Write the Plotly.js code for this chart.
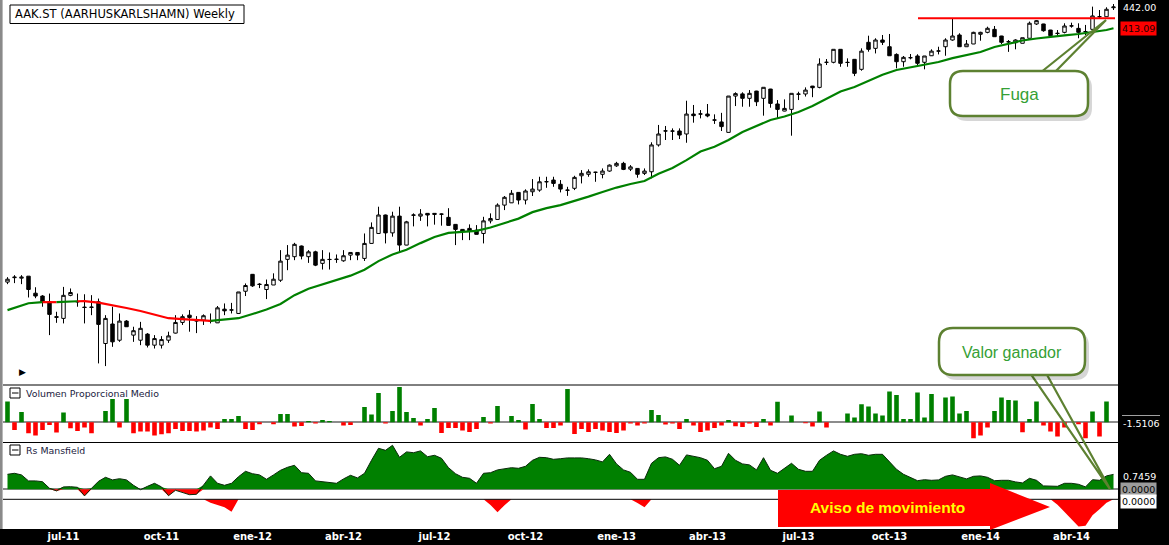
<!DOCTYPE html>
<html><head><meta charset="utf-8">
<script src="https://cdn.plot.ly/plotly-3.0.1.min.js"></script>
<style>html,body{margin:0;padding:0;background:#fff;overflow:hidden}#chart{width:1169px;height:545px}</style>
</head><body><div id="chart"></div>
<script>
// ---------- DATA (weekly candles, first one dated Friday 2011-05-06) ----------
const firstWeek = [2011, 4, 6];
const openP = [184.5,187.1,186.8,188.0,178.1,176.5,173.3,165.3,164.4,176.9,
173.5,170.4,170.2,173.3,151.8,161.5,153.4,163.0,155.9,153.4,
156.4,151.0,151.0,153.4,156.9,162.3,166.1,163.2,163.5,163.1,
162.1,169.3,168.8,167.0,179.2,189.1,183.3,180.2,182.8,185.6,
198.3,200.0,206.9,200.0,203.1,195.8,198.3,198.2,197.4,201.0,
202.7,198.9,208.6,215.3,228.3,215.7,227.5,207.5,228.1,227.5,
229.5,229.5,229.0,226.6,221.6,218.1,218.8,217.6,215.3,224.1,
225.1,235.6,237.3,245.3,239.4,245.8,247.1,253.7,255.1,251.7,
247.1,248.5,258.6,259.8,261.4,259.8,262.5,266.9,269.0,264.1,
264.7,260.6,261.9,285.2,298.1,298.1,298.1,295.3,314.6,314.6,
314.6,308.8,306.8,296.8,333.1,335.4,330.7,338.4,330.7,340.6,
324.8,317.6,319.3,335.0,335.3,343.8,342.4,370.7,370.8,386.4,
370.8,374.3,362.6,395.1,387.6,398.0,389.6,380.2,371.5,376.2,
378.3,370.8,378.6,384.2,389.6,398.0,404.4,389.6,393.0,405.3,
407.8,411.7,403.1,395.9,394.6,393.9,400.2,418.8,418.8,410.8,
406.6,407.8,416.1,413.0,408.6,411.7,428.6,428.6,441.0];
const highP = [187.4,188.6,188.6,188.0,181.5,177.0,177.9,167.9,181.7,180.8,
177.9,177.5,177.0,175.1,166.1,170.6,167.0,163.5,160.1,162.6,
156.9,155.9,155.4,157.6,166.1,166.5,168.8,165.6,166.5,167.0,
171.0,172.4,172.7,178.8,183.7,189.3,183.9,186.0,189.7,204.2,
207.5,209.0,207.2,204.2,203.8,204.2,202.7,201.4,204.2,202.7,
202.7,215.3,223.0,234.4,228.6,230.7,234.4,224.1,229.5,232.6,
229.7,229.7,229.4,233.3,221.8,218.3,221.6,221.1,227.0,229.5,
236.9,242.5,247.1,245.5,247.7,255.9,257.8,257.8,257.8,255.1,
249.7,258.6,263.3,263.9,261.9,264.7,268.1,270.3,270.3,267.5,
264.9,264.7,287.6,303.9,302.9,300.6,300.6,328.2,323.8,318.6,
324.8,314.3,315.8,333.1,337.1,337.1,339.5,338.7,342.5,340.8,
328.9,329.6,336.0,337.7,342.4,344.0,375.5,374.7,386.4,386.6,
375.5,374.5,387.6,403.5,400.2,404.4,405.7,381.5,378.3,380.7,
380.4,378.3,386.4,389.6,400.2,426.4,406.6,398.0,408.6,408.6,
415.2,416.1,403.3,398.0,398.9,400.9,422.0,424.1,419.0,411.0,
410.8,419.7,420.5,419.7,417.5,442.5,437.8,441.6,446.2];
const lowP = [183.3,183.9,183.3,175.7,175.3,170.6,155.9,162.1,161.8,176.4,
170.6,161.8,166.1,142.5,141.3,150.2,152.6,160.0,152.6,151.0,
149.9,149.4,149.4,152.1,156.7,161.0,157.6,156.9,161.0,161.8,
162.0,166.1,167.0,166.9,176.5,181.7,181.0,174.8,182.8,184.6,
191.6,197.8,198.3,196.1,194.1,192.0,192.0,196.1,196.8,197.8,
197.8,197.3,208.5,215.2,208.6,213.1,203.1,207.4,220.2,224.1,
220.2,221.4,220.7,220.8,207.5,210.8,210.8,214.6,208.6,222.3,
225.0,231.9,237.2,236.1,236.1,242.5,245.8,248.9,249.7,245.3,
242.6,247.1,252.4,257.8,253.7,256.5,261.9,266.0,263.3,262.5,
257.0,259.2,256.5,283.7,289.7,289.7,290.6,287.2,306.1,310.3,
311.4,304.9,298.1,296.7,322.7,322.0,322.0,322.7,313.0,321.0,
310.3,317.4,293.7,328.9,332.6,331.9,341.4,367.6,369.6,365.6,
365.6,354.9,361.0,383.5,381.4,391.7,378.5,363.8,365.6,374.3,
366.7,362.6,378.3,380.2,378.6,397.1,389.5,389.5,392.9,397.1,
406.6,402.1,393.0,383.3,386.4,393.8,400.1,417.5,408.6,401.4,
402.2,406.5,413.9,400.2,404.4,411.6,425.5,428.5,437.8];
const closeP = [186.2,187.4,187.4,180.2,176.5,173.3,166.5,165.0,176.9,178.5,
173.3,170.2,170.4,161.3,164.4,152.6,163.0,160.1,158.1,159.3,
151.0,154.2,153.7,155.5,162.3,165.3,164.9,163.1,165.8,163.0,
170.0,168.4,168.9,178.8,182.5,182.3,183.1,183.1,186.2,197.2,
201.0,208.0,200.4,203.1,194.7,198.3,198.2,198.4,200.6,202.7,
201.0,208.6,219.5,228.3,215.7,227.5,207.5,223.4,228.3,229.0,
228.3,228.8,228.9,220.9,218.1,216.9,217.1,214.7,224.1,225.8,
235.6,241.5,244.6,239.4,246.4,247.9,253.7,253.8,252.4,247.9,
247.0,257.3,260.6,261.9,261.5,262.5,267.5,269.0,263.9,266.0,
259.8,262.5,285.2,295.3,298.2,298.0,294.3,314.6,313.0,314.7,
312.7,308.6,302.3,333.1,335.7,330.7,336.0,327.1,342.5,325.4,
319.3,320.3,336.0,335.2,339.5,342.0,368.8,370.8,386.4,369.6,
370.6,358.0,384.2,386.4,398.0,395.1,378.6,371.5,376.7,376.3,
369.6,378.3,384.2,384.4,398.0,403.1,389.6,393.0,407.8,407.8,
413.1,402.2,395.1,395.7,398.0,400.9,419.8,423.2,409.9,403.5,
406.4,416.1,416.3,407.8,408.8,429.6,428.7,438.8,442.0];

// moving average (sampled at candle index), red where falling
const maWeek = [0,3,5,7,9,10,11,13,15,17,19,21,23,25,27,29,31,33,35,37,39,41,43,45,47,49,51,53,55,57,59,61,63,65,67,69,71,73,75,77,79,81,83,85,87,89,91,93,95,97,99,101,103,105,107,109,111,113,115,117,119,121,123,125,127,129,131,133,135,137,139,141,143,145,147,149,151,153,155,157,158];
const maVal = [168.8,172.5,173.1,173.1,173.4,173.6,173.7,172.8,171.5,169.9,168.3,166.4,164.5,164.0,163.5,163.1,163.8,164.5,166.7,169.1,172.1,177.0,180.6,183.0,185.6,188.3,191.9,197.2,201.4,204.5,208.8,212.9,215.7,216.5,217.1,219.4,222.8,225.7,230.4,233.3,235.6,238.6,242.0,245.6,249.1,251.9,254.3,260.2,265.0,271.8,279.3,283.5,289.7,297.1,302.9,308.7,312.2,316.6,322.7,330.5,337.9,342.8,349.4,356.5,361.8,364.6,368.2,371.1,375.8,379.4,383.1,389.3,393.0,397.4,399.9,402.2,404.0,405.7,407.8,410.8,413.09];
const maRedSegments = [[5,7],[10,29]];

const volumen = [2.07,-0.77,1.03,-1.1,-1.33,-0.77,-0.27,-1.03,0.97,-0.6,
-0.87,-0.53,-1.1,0,1.13,2.33,-0.53,2.33,-1.1,-0.93,
-0.93,-1.33,-1.2,-1.1,-0.67,-0.87,-0.87,-0.93,-0.83,-0.53,
-0.67,0.33,0.33,0.63,-0.67,-0.77,-0.2,0,-0.2,0.83,
0.83,-0.43,-0.37,0.13,-0.13,0.23,0.13,0,-0.33,-0.27,
0,1.53,0.77,2.93,-0.13,1.13,3.53,1.03,0.43,-0.33,
0.33,1.43,-1.07,-0.57,-0.57,-0.83,-0.97,-0.67,0.53,-0.13,
1.63,0,0.63,0.23,-0.73,1.83,0.33,-0.57,-0.57,-0.33,
3.33,-1.17,-0.67,-0.97,-0.67,-0.83,-0.97,-1.07,-0.83,-0.13,
-0.33,-0.13,1.23,0.73,-0.23,-0.13,-0.67,0.33,-0.33,-0.97,
-0.83,-0.57,-0.33,0.23,-0.4,-0.47,-0.13,-0.47,0.33,-0.33,
2.05,0,0.67,0,-0.1,-0.43,1.07,-0.53,0,0,
0.87,0.47,1.8,1.57,0.87,0.67,3.07,2.73,0.33,0.33,
2.97,0.47,2.83,0,2.47,2.57,0.87,1.13,-1.6,-1.33,
-0.53,1.13,2.47,2.23,2.17,-1.0,0.33,2.07,-0.33,-0.93,
-1.43,-0.53,0,-0.2,-1.6,1.07,-1.43,2.07,0];

const rsMansfield = [0.75,0.8,0.72,0.42,0.42,0.38,0.05,-0.08,0.12,0.13,
0.1,-0.33,0.05,0.4,0.6,0.47,0.53,0.47,0.2,-0.02,
0.15,0.3,0.12,-0.32,-0.05,-0.15,-0.27,-0.25,0.2,0.67,
0.3,0.2,0.3,0.63,0.9,0.78,0.72,0.5,0.72,0.95,
1.1,1.2,0.83,0.8,0.42,0.37,0.35,0.3,0.52,0.7,
0.57,0.8,1.45,2.05,1.95,2.2,1.6,1.87,1.83,1.92,
1.63,1.7,1.55,1.08,0.78,0.6,0.55,0.3,0.8,0.83,
0.97,1.03,1.08,1.05,1.15,1.45,1.6,1.58,1.5,1.53,
1.57,1.57,1.57,1.53,1.47,1.37,1.75,1.27,0.97,0.85,
0.5,0.5,1.3,1.58,1.62,1.5,1.2,1.72,1.65,1.58,
1.45,1.03,1.15,1.8,1.45,1.27,1.22,0.97,1.58,0.95,
0.8,1.05,1.3,1.0,0.9,0.9,1.45,1.7,1.92,1.75,
1.65,1.75,1.78,1.7,1.75,1.75,1.4,1.0,0.75,0.57,
0.43,0.48,0.45,0.47,0.65,0.72,0.62,0.52,0.65,0.67,
0.6,0.43,0.45,0.45,0.37,0.32,0.55,0.45,0.17,0.15,
0.15,0.3,0.3,0.25,0.12,0.48,0.45,0.67,0.7459];

const avisoNeg = [0,0,0,0,0,0,0,0,0,0, 0,0,0,0,0,0,0,0,0,0,
0,0,0,0,0,0,0,0,0,-0.17, -0.3,-0.4,-0.63,0,0,0,0,0,0,0,
0,0,0,0,0,0,0,0,0,0, 0,0,0,0,0,0,0,0,0,0,
0,0,0,0,0,0,0,0,0,-0.29, -0.65,-0.3,0,0,0,0,0,0,0,0,
0,0,0,0,0,0,0,0,0,0, -0.19,-0.4,0,0,0,0,0,0,0,0,
0,0,0,0,0,0,0,0,0,0, 0,0,0,0,0,0,0,0,0,0,
0,0,0,0,0,0,0,0,0,0, 0,0,0,0,0,0,0,0,0,0,
0,0,0,0,0,0,0,0,0,0,
-0.27,-0.65,-1.03,-1.38,-1.33,-0.8,-0.5,-0.17,0];

const tickDates = ['2011-07-01','2011-10-07','2012-01-06','2012-04-06','2012-07-06','2012-10-05','2013-01-04','2013-04-05','2013-07-05','2013-10-04','2014-01-03','2014-04-04'];
const tickLabels = ['jul-11','oct-11','ene-12','abr-12','jul-12','oct-12','ene-13','abr-13','jul-13','oct-13','ene-14','abr-14'];
const resistLevel = 426.4;
const resistSpan = ['2013-11-01 12:00','2014-05-17 12:00'];
const volumenLabel = -1.5106;

// ---------- BUILD ----------
const W = 1169, H = 545;
const X = px => px / W, Y = py => 1 - py / H;
const DAY = 86400000;
const t0 = Date.UTC(firstWeek[0], firstWeek[1], firstWeek[2]);
const dates = closeP.map((_, i) => new Date(t0 + i * 7 * DAY).toISOString().slice(0, 10));

const traces = [];
let cuts = [0];
maRedSegments.forEach(s => { cuts.push(s[0]); cuts.push(s[1]); });
cuts.push(closeP.length - 1);
for (let k = 0; k < cuts.length - 1; k++) {
  const a = cuts[k], b = cuts[k + 1];
  const red = maRedSegments.some(s => s[0] === a && s[1] === b);
  const xs = [], ys = [];
  maWeek.forEach((w, j) => { if (w >= a && w <= b) { xs.push(dates[w]); ys.push(maVal[j]); } });
  traces.push({type: 'scatter', mode: 'lines', x: xs, y: ys, xaxis: 'x', yaxis: 'y',
    line: {color: red ? '#ff0000' : '#008000', width: 2.2}, hoverinfo: 'skip'});
}
traces.push({type: 'scatter', mode: 'lines', x: resistSpan, y: [resistLevel, resistLevel], xaxis: 'x', yaxis: 'y',
  line: {color: '#ff0000', width: 2}, hoverinfo: 'skip'});
traces.push({type: 'candlestick', x: dates, open: openP, high: highP, low: lowP, close: closeP,
  xaxis: 'x', yaxis: 'y', whiskerwidth: 0,
  increasing: {line: {color: '#000', width: 1}, fillcolor: '#ffffff'},
  decreasing: {line: {color: '#000', width: 1}, fillcolor: '#000000'}, hoverinfo: 'skip'});
traces.push({type: 'bar', x: dates, y: volumen, xaxis: 'x', yaxis: 'y2', width: 4.6 * DAY,
  marker: {color: volumen.map(v => v >= 0 ? '#008000' : '#ff0000'), line: {width: 0}}, hoverinfo: 'skip'});
traces.push({type: 'scatter', mode: 'lines', x: dates, y: rsMansfield.map(v => Math.max(v, 0)), xaxis: 'x', yaxis: 'y3',
  fill: 'tozeroy', fillcolor: '#008000', line: {width: 0, color: '#008000'}, hoverinfo: 'skip'});
traces.push({type: 'scatter', mode: 'lines', x: dates, y: rsMansfield.map(v => Math.min(v, 0)), xaxis: 'x', yaxis: 'y3',
  fill: 'tozeroy', fillcolor: '#ff0000', line: {width: 0, color: '#ff0000'}, hoverinfo: 'skip'});
traces.push({type: 'scatter', mode: 'lines', x: dates, y: rsMansfield, xaxis: 'x', yaxis: 'y3',
  line: {width: 1, color: '#0a2a0a'}, hoverinfo: 'skip'});
traces.push({type: 'scatter', mode: 'lines', x: dates, y: avisoNeg, xaxis: 'x', yaxis: 'y4',
  fill: 'tozeroy', fillcolor: '#ff0000', line: {width: 0, color: '#ff0000'}, hoverinfo: 'skip'});

// ---------- SHAPES ----------
const P = (x, y) => X(x).toFixed(5) + ',' + Y(y).toFixed(5);
const rect = (x0, y0, x1, y1, fill, lc, lw, layer) => ({type: 'rect', xref: 'paper', yref: 'paper',
  x0: X(x0), x1: X(x1), y0: Y(y1), y1: Y(y0), fillcolor: fill, line: {color: lc || fill, width: lw || 0}, layer: layer || 'above'});
const hline = (x0, x1, y, color, w) => ({type: 'line', xref: 'paper', yref: 'paper', x0: X(x0), x1: X(x1), y0: Y(y), y1: Y(y), line: {color: color, width: w}});
const rr = (x0, y0, x1, y1, r) => `M${P(x0 + r, y0)} L${P(x1 - r, y0)} Q${P(x1, y0)} ${P(x1, y0 + r)} L${P(x1, y1 - r)} Q${P(x1, y1)} ${P(x1 - r, y1)} L${P(x0 + r, y1)} Q${P(x0, y1)} ${P(x0, y1 - r)} L${P(x0, y0 + r)} Q${P(x0, y0)} ${P(x0 + r, y0)} Z`;
const pathS = (d, fill, lc, lw) => ({type: 'path', xref: 'paper', yref: 'paper', path: d, fillcolor: fill, line: {color: lc || 'rgba(0,0,0,0)', width: lw || 0}});
const GREEN_B = '#5d8131';

const shapes = [
  rect(0, 529, 1169, 545, '#000000', null, 0, 'below'),
  rect(1118, 0, 1169, 545, '#000000', null, 0, 'below'),
  rect(0, 0, 2.6, 529, '#8a8a8a', null, 0, 'below'),
  hline(3, 1118, 385, '#000', 1),
  hline(3, 1118, 442.5, '#000', 1),
  hline(3, 1118, 499.3, '#000', 1),
  hline(1122, 1160, 415.5, '#a0a0a0', 1),
  rect(10, 5, 244, 23.5, '#ffffff', '#000', 1),
  rect(10, 388, 20, 398, '#ffffff', '#000', 1),
  hline(12, 18.5, 393, '#000', 1),
  rect(10, 445, 20, 455, '#ffffff', '#000', 1),
  hline(12, 18.5, 450, '#000', 1),
  pathS(`M${P(1040, 73)} L${P(1106, 20)} L${P(1054, 73)}`, 'rgba(0,0,0,0)', GREEN_B, 2.2),
  pathS(rr(954, 75, 1092, 121, 13), 'rgba(0,0,0,0.16)'),
  pathS(rr(950, 71, 1088, 116, 13), '#ffffff', GREEN_B, 2.5),
  pathS(`M${P(1030, 373)} L${P(1110, 489)} L${P(1046, 373)}`, 'rgba(0,0,0,0)', GREEN_B, 2.2),
  pathS(rr(943, 332, 1089, 380, 14), 'rgba(0,0,0,0.16)'),
  pathS(rr(939, 328, 1085, 375, 14), '#ffffff', GREEN_B, 2.5),
  pathS(`M${P(778, 490)} L${P(990, 489)} L${P(990, 483)} L${P(1050, 507)} L${P(990, 530)} L${P(990, 526)} L${P(778, 527)} Z`, '#ff0000')
];

// ---------- ANNOTATIONS ----------
const ann = (text, x, y, font, extra) => Object.assign({text: text, x: X(x), y: Y(y), xref: 'paper', yref: 'paper',
  xanchor: 'left', yanchor: 'middle', showarrow: false, font: font}, extra || {});
const lab = {family: 'DejaVu Sans', size: 9.5, color: '#ffffff'};
const lastClose = closeP[closeP.length - 1];
const lastMA = maVal[maVal.length - 1];
const lastRs = rsMansfield[rsMansfield.length - 1];
const annotations = [
  ann('AAK.ST (AARHUSKARLSHAMN) Weekly', 12.5, 14.5, {family: 'DejaVu Sans', size: 11.5, color: '#000'}),
  ann('Volumen Proporcional Medio', 24, 393.5, {family: 'DejaVu Sans', size: 9.4, color: '#1a1a40'}),
  ann('Rs Mansfield', 24, 450.5, {family: 'DejaVu Sans', size: 9.4, color: '#1a1a40'}),
  ann('▶', 17, 372, {family: 'DejaVu Sans', size: 9, color: '#000'}),
  ann(lastClose.toFixed(2), 1121, 7.5, lab),
  ann(lastMA.toFixed(2), 1120, 28.5, {family: 'DejaVu Sans', size: 9.5, color: '#200000'}, {bgcolor: '#ff0000', borderpad: 1}),
  ann(volumenLabel.toFixed(4), 1121, 423.5, lab),
  ann(lastRs.toFixed(4), 1121, 476, lab),
  ann((0).toFixed(4), 1120, 489.5, {family: 'DejaVu Sans', size: 9.5, color: '#000'}, {bgcolor: '#9c9c9c', borderpad: 1}),
  ann((0).toFixed(4), 1120, 501, {family: 'DejaVu Sans', size: 9.5, color: '#000'}, {bgcolor: '#ffffff', borderpad: 1}),
  ann('Fuga', 1019, 94, {family: 'Liberation Sans', size: 17, color: '#35a035'}, {xanchor: 'center'}),
  ann('Valor ganador', 1012, 352, {family: 'Liberation Sans', size: 16, color: '#35a035'}, {xanchor: 'center'}),
  ann('<b>Aviso de movimiento</b>', 887, 507, {family: 'Liberation Sans', size: 15.5, color: '#ffff00'}, {xanchor: 'center'})
];

const layout = {
  width: W, height: H, margin: {l: 0, r: 0, t: 0, b: 0},
  paper_bgcolor: '#ffffff', plot_bgcolor: '#ffffff', showlegend: false, hovermode: false,
  xaxis: {type: 'date', domain: [X(3), X(1118)], range: ['2011-05-01 12:00', '2014-05-20 12:00'], anchor: 'y4',
    rangeslider: {visible: false}, tickvals: tickDates, ticktext: tickLabels.map(t => '<b>' + t + '</b>'),
    tickfont: {family: 'DejaVu Sans', size: 10, color: '#ffffff'}, ticks: '', showgrid: false, zeroline: false,
    showline: false, fixedrange: true},
  yaxis: {type: 'log', domain: [Y(385), Y(0)], range: [2.12404, 2.65507], visible: false, anchor: 'x', fixedrange: true},
  yaxis2: {domain: [Y(442.5), Y(385)], range: [-2.02, 3.73], showticklabels: false, showgrid: false, zeroline: true,
    zerolinecolor: '#8c8c8c', zerolinewidth: 2, anchor: 'x', fixedrange: true},
  yaxis3: {domain: [Y(499.3), Y(442.5)], range: [-0.5, 2.34], showticklabels: false, showgrid: false, zeroline: true,
    zerolinecolor: '#8c8c8c', zerolinewidth: 2, anchor: 'x', fixedrange: true},
  yaxis4: {domain: [Y(529), Y(499.3)], range: [-1.5, 0], showticklabels: false, showgrid: false, zeroline: false,
    anchor: 'x', fixedrange: true},
  shapes: shapes,
  annotations: annotations
};

Plotly.newPlot('chart', traces, layout, {staticPlot: true, displayModeBar: false});
</script>
</body></html>
